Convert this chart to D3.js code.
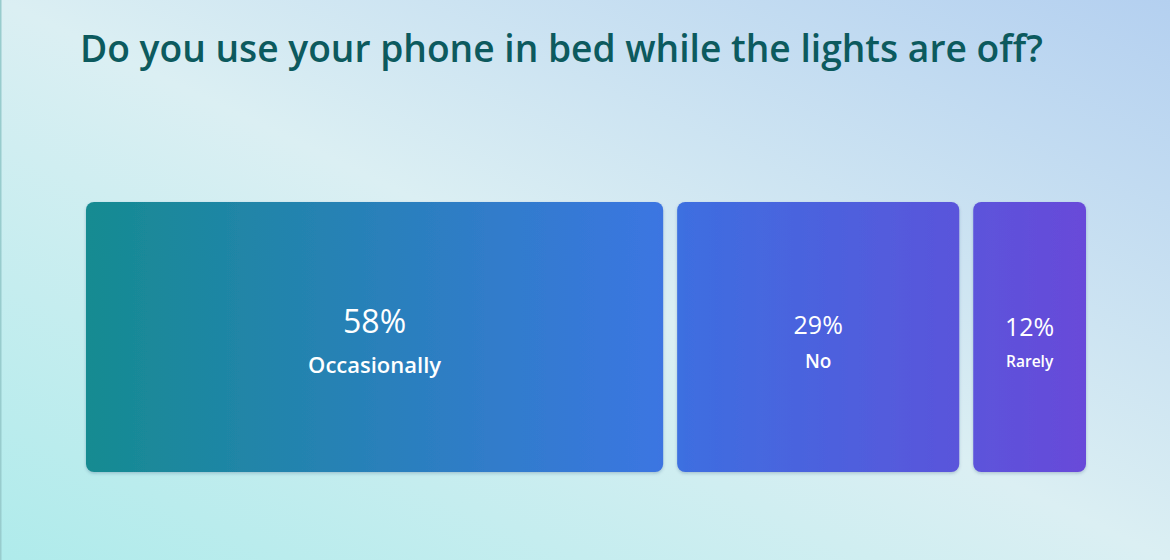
<!DOCTYPE html>
<html><head><meta charset="utf-8">
<script src="https://cdn.jsdelivr.net/npm/d3@7"></script>
<style>html,body{margin:0;padding:0;overflow:hidden;}svg{display:block;}</style>
</head><body><div id="chart"></div>
<script>
const title = "Do you use your phone in bed while the lights are off?";
const categories = ["Occasionally", "No", "Rarely"];
const values = [58.3, 29.2, 12.5];

const W = 1170, H = 560;
const svg = d3.select("#chart").append("svg").attr("width", W).attr("height", H);
const defs = svg.append("defs");

const bg = defs.append("linearGradient").attr("id", "bg")
  .attr("x1", 0).attr("y1", 1).attr("x2", 1).attr("y2", 0);
[[0, "#afebeb"], [0.5, "#dbeff3"], [1, "#b4d0f0"]].forEach(([o, c]) =>
  bg.append("stop").attr("offset", o).attr("stop-color", c));

const barG = defs.append("linearGradient").attr("id", "barGrad")
  .attr("gradientUnits", "userSpaceOnUse")
  .attr("x1", 86).attr("y1", 0).attr("x2", 1086).attr("y2", 0);
[[0, "#168b91"], [0.57, "#3b76e1"], [0.6, "#3e6ee0"], [0.87, "#5a55db"], [1, "#684ad9"]].forEach(([o, c]) =>
  barG.append("stop").attr("offset", o).attr("stop-color", c));

const f = defs.append("filter").attr("id", "sh").attr("x", "-5%").attr("y", "-5%").attr("width", "110%").attr("height", "115%");
f.append("feDropShadow").attr("dx", 0).attr("dy", 1.5).attr("stdDeviation", 1.5)
  .attr("flood-color", "#1a3a6a").attr("flood-opacity", 0.25);

svg.append("rect").attr("width", W).attr("height", H).attr("fill", "url(#bg)");
svg.append("rect").attr("x", 0).attr("y", 0).attr("width", 1.5).attr("height", H).attr("fill", "#98cccd");

svg.append("text").attr("x", 80).attr("y", 62)
  .attr("font-family", "Open Sans, Noto Sans, sans-serif")
  .attr("font-size", 38).attr("font-weight", 600)
  .attr("fill", "#0c5a5e").attr("textLength", 963).attr("lengthAdjust", "spacingAndGlyphs")
  .text(title);

const gap = 14;
const total = d3.sum(values);
const x = d3.scaleLinear().domain([0, total]).range([86, 1086 + gap]);
const y = d3.scaleBand().domain(["all"]).range([202, 472]);
const cum = d3.cumsum(values);
const data = categories.map((c, i) => ({ c, v: values[i], x0: i ? cum[i - 1] : 0, x1: cum[i] }));

const g = svg.append("g").selectAll("g").data(data).join("g");
g.append("rect")
  .attr("x", d => x(d.x0))
  .attr("y", y("all"))
  .attr("width", d => x(d.x1) - x(d.x0) - gap)
  .attr("height", y.bandwidth())
  .attr("rx", 8)
  .attr("fill", "url(#barGrad)")
  .attr("filter", "url(#sh)");

const pctSize = [32, 25, 25];
const labSize = [22, 19, 15.5];
const pctY = [333, 334, 336];
const labY = [373, 368, 367];
g.append("text")
  .attr("x", d => (x(d.x0) + x(d.x1) - gap) / 2)
  .attr("y", (d, i) => pctY[i])
  .attr("text-anchor", "middle")
  .attr("font-family", "Open Sans, Noto Sans, sans-serif")
  .attr("font-size", (d, i) => pctSize[i])
  .attr("fill", "#ffffff")
  .text(d => Math.floor(d.v) + "%");
g.append("text")
  .attr("x", d => (x(d.x0) + x(d.x1) - gap) / 2)
  .attr("y", (d, i) => labY[i])
  .attr("text-anchor", "middle")
  .attr("font-family", "Open Sans, Noto Sans, sans-serif")
  .attr("font-size", (d, i) => labSize[i])
  .attr("font-weight", 600)
  .attr("fill", "#ffffff")
  .text(d => d.c);
</script></body></html>
